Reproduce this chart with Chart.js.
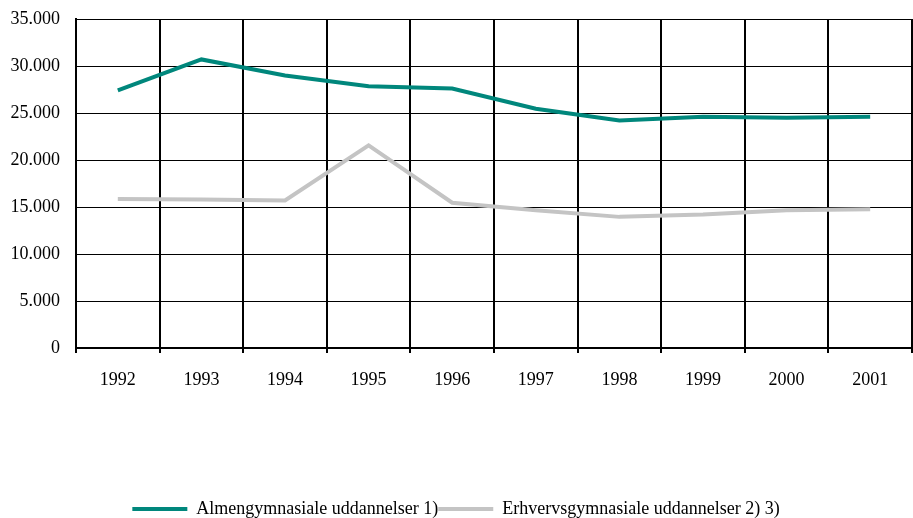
<!DOCTYPE html>
<html>
<head>
<meta charset="utf-8">
<script src="https://cdn.jsdelivr.net/npm/chart.js@4.4.0/dist/chart.umd.min.js"></script>
<style>
  html, body { margin: 0; padding: 0; background: #fff; }
  canvas { display: block; }
</style>
</head>
<body>
<canvas id="chart" width="913" height="518"></canvas>
<script>
const years = ['1992', '1993', '1994', '1995', '1996', '1997', '1998', '1999', '2000', '2001'];
const almen = [27400, 30700, 29000, 27850, 27600, 25450, 24200, 24600, 24500, 24600];
const erhverv = [15850, 15800, 15700, 21550, 15450, 14650, 13950, 14200, 14650, 14750];
const seriesNames = ['Almengymnasiale uddannelser 1)', 'Erhvervsgymnasiale uddannelser 2) 3)'];

const font = { family: "'Liberation Serif', 'DejaVu Serif', serif", size: 18 };

function formatNumber(v) {
  return v.toLocaleString('da-DK');
}

const ctx = document.getElementById('chart').getContext('2d');
new Chart(ctx, {
  type: 'line',
  data: {
    labels: years,
    datasets: [
      { label: seriesNames[0], data: almen, borderColor: '#00877c', backgroundColor: '#00877c' },
      { label: seriesNames[1], data: erhverv, borderColor: '#c4c4c4', backgroundColor: '#c4c4c4' }
    ]
  },
  options: {
    responsive: false,
    animation: false,
    layout: { padding: { top: 19, right: 1, left: 0, bottom: -10 } },
    elements: {
      line: { borderWidth: 4, tension: 0 },
      point: { radius: 0 }
    },
    plugins: {
      tooltip: { enabled: false },
      legend: {
        position: 'bottom',
        labels: {
          font: font,
          color: '#000',
          boxWidth: 55,
          boxHeight: 4,
          padding: 0,
          generateLabels: (chart) => chart.data.datasets.map((ds, i) => ({
            text: ds.label,
            fillStyle: ds.borderColor,
            strokeStyle: ds.borderColor,
            lineWidth: 0,
            datasetIndex: i
          }))
        }
      }
    },
    scales: {
      x: {
        offset: true,
        grid: { color: '#000', lineWidth: 2, offset: true, tickLength: 5 },
        border: { color: '#000', width: 2 },
        ticks: { font: font, color: '#000', padding: 16 },
        title: { display: true, text: ' ', padding: { top: 79, bottom: 0 } }
      },
      y: {
        min: 0,
        max: 35000,
        afterFit: (scale) => { scale.width = 76; scale.paddingTop = 0; },
        grid: { color: '#000', lineWidth: 1, tickLength: 0 },
        border: { color: '#000', width: 2 },
        ticks: {
          stepSize: 5000,
          font: font,
          color: '#000',
          padding: 16,
          callback: (v) => formatNumber(v)
        }
      }
    }
  }
});
</script>
</body>
</html>
